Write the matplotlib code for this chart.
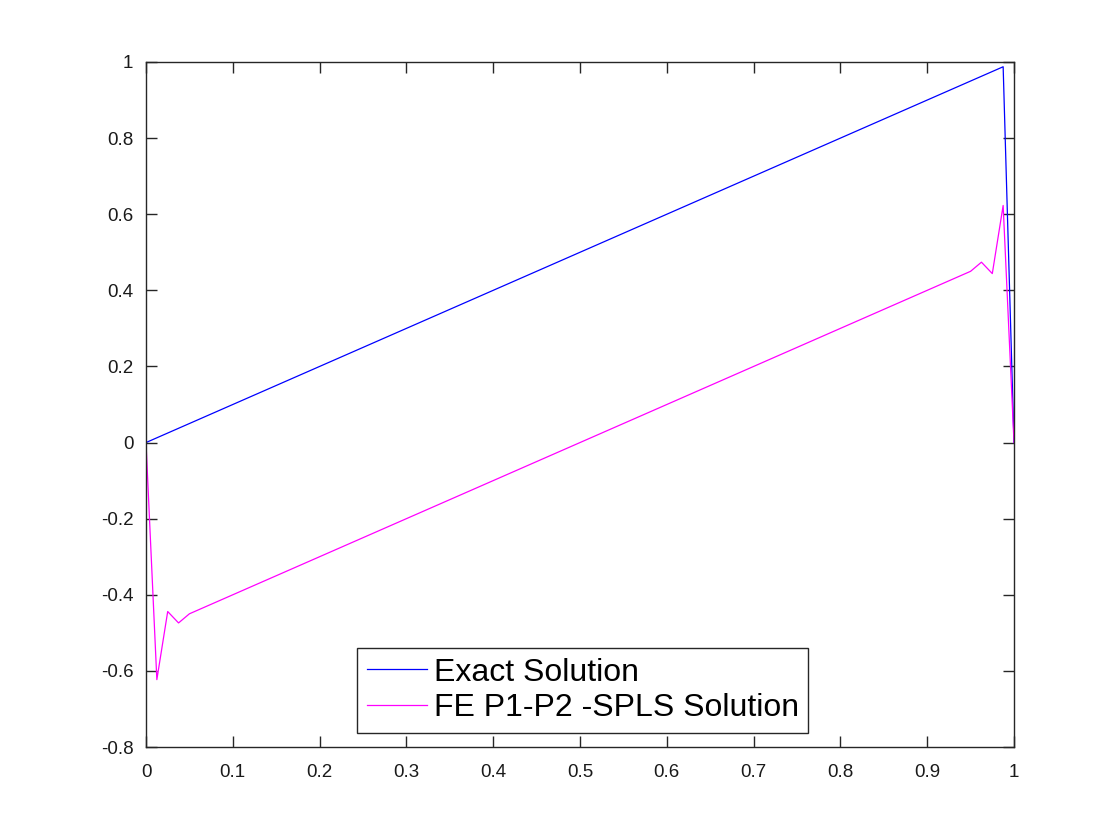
import matplotlib
matplotlib.use("Agg")
import matplotlib.pyplot as plt

# Data
exact_x = [0.0, 0.9875, 1.0]
exact_y = [0.0, 0.9875, 0.0]

fe_x = [0.0, 0.0125, 0.025, 0.0375, 0.05, 0.95, 0.9625, 0.975, 0.9875, 1.0]
fe_y = [0.0, -0.623, -0.444, -0.474, -0.450, 0.450, 0.474, 0.444, 0.623, 0.0]

xticks = [0, 0.1, 0.2, 0.3, 0.4, 0.5, 0.6, 0.7, 0.8, 0.9, 1]
xticklabels = ["0", "0.1", "0.2", "0.3", "0.4", "0.5", "0.6", "0.7", "0.8", "0.9", "1"]
yticks = [-0.8, -0.6, -0.4, -0.2, 0, 0.2, 0.4, 0.6, 0.8, 1]
yticklabels = ["-0.8", "-0.6", "-0.4", "-0.2", "0", "0.2", "0.4", "0.6", "0.8", "1"]

labels = ["Exact Solution", "FE P1-P2 -SPLS Solution"]

plt.rcParams['font.family'] = ['Liberation Sans', 'DejaVu Sans']

fig = plt.figure(figsize=(11.2, 8.4), dpi=100)
ax = fig.add_axes([146/1120, 1 - 747/840, (1014 - 146)/1120, (747 - 62)/840])

ax.plot(exact_x, exact_y, color=(0, 0, 1), linewidth=0.9, label=labels[0])
ax.plot(fe_x, fe_y, color=(1, 0, 1), linewidth=0.9, label=labels[1])

ax.set_xlim(0, 1)
ax.set_ylim(-0.8, 1)
ax.set_xticks(xticks)
ax.set_xticklabels(xticklabels)
ax.set_yticks(yticks)
ax.set_yticklabels(yticklabels)

axc = (0.15, 0.15, 0.15)
for s in ax.spines.values():
    s.set_color(axc)
    s.set_linewidth(1.0)
ax.tick_params(direction='in', length=8, width=1.0, color=axc, labelcolor=(0.1, 0.1, 0.1),
               labelsize=13.5, top=True, right=True)
ax.tick_params(axis='x', pad=12)
ax.tick_params(axis='y', pad=9)

leg = ax.legend(loc='lower left', bbox_to_anchor=(357/1120, 1 - 733/840),
                bbox_transform=fig.transFigure, fontsize=23, frameon=True,
                fancybox=False, edgecolor=axc, framealpha=1, borderpad=0.3,
                handlelength=1.9, handletextpad=0.2, labelspacing=0.18, borderaxespad=0)
leg.get_frame().set_linewidth(1.0)

fig.savefig("out.png", dpi=100)
